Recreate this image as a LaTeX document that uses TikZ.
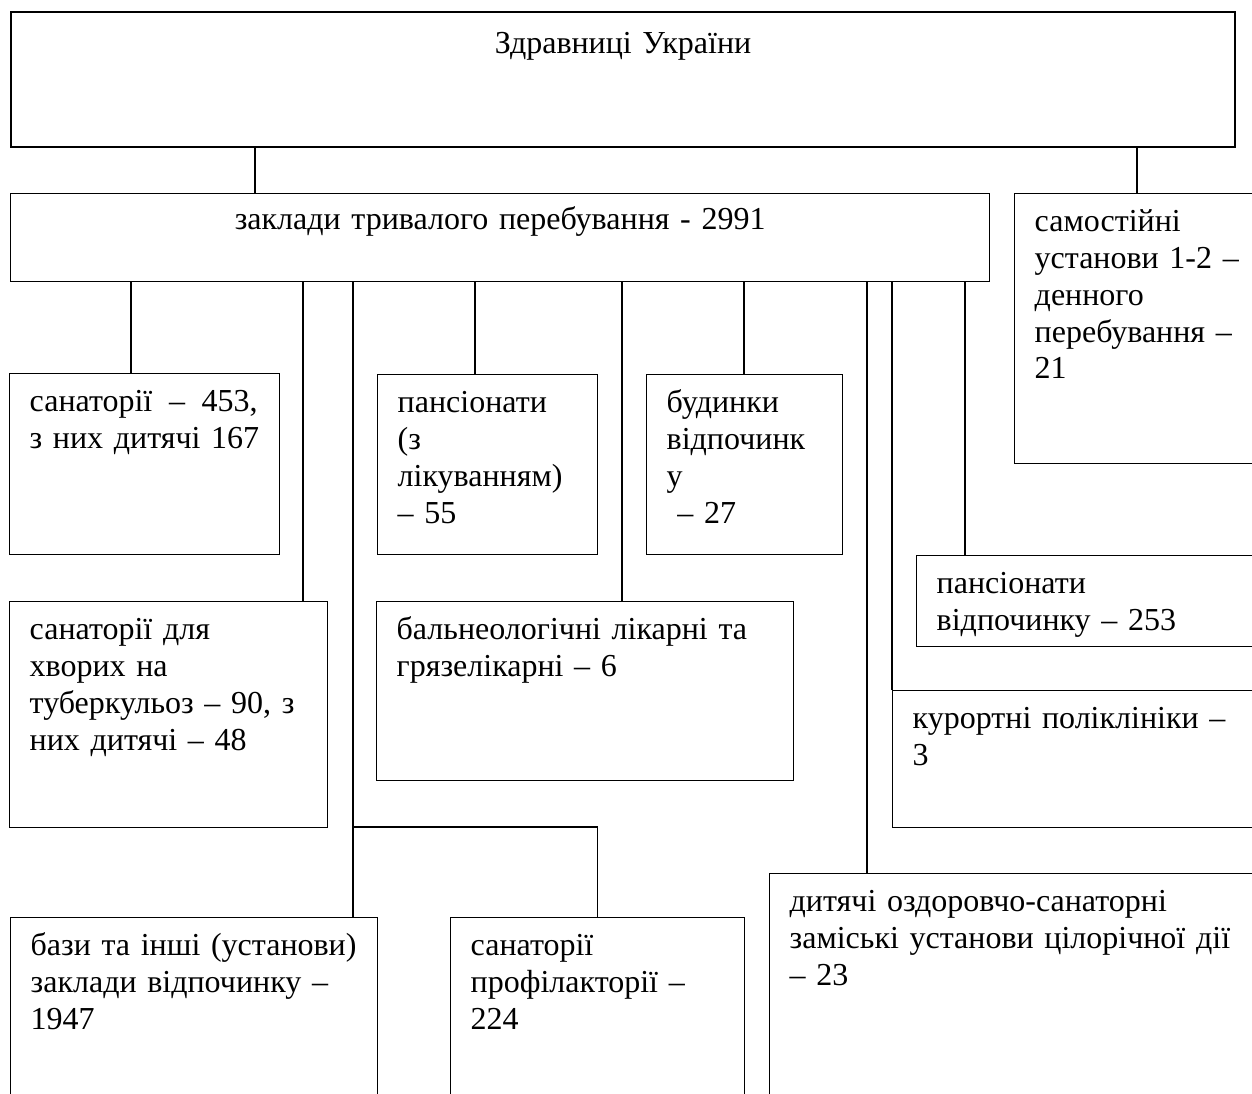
\documentclass[tikz,border=0pt]{standalone}
\usepackage{fontspec}
\setmainfont{Liberation Serif}
\tikzset{
  box/.style={draw, line width=0.7pt, anchor=north west, align=left,
    inner xsep=10pt, inner ysep=6pt, text height=13pt,
    font=\fontsize{16pt}{18.4pt}\selectfont},
  link/.style={line width=0.55pt},
}
\begin{document}
\begin{tikzpicture}[x=0.5pt, y=-0.5pt]
    % Межі малюнка
    \useasboundingbox (0,0) rectangle (1252,1093);
    \clip (0,0) rectangle (1252,1093);

    % 1. Верхній рівень
    \node[box, line width=1pt, align=center, inner ysep=7.5pt, text width=592pt, text depth=39.5pt] (ukr) at (10,11) {Здравниці України};

    % 2. Другий рівень
    \node[box, align=center, inner ysep=5pt, text width=469.5pt, text depth=21pt] (tryv) at (10,193) {заклади тривалого перебування - 2991};
    \node[box, text width=140pt, text depth=110pt] (samost) at (1014,193)
        {самостійні\\установи 1-2 –\\денного\\перебування –\\21};

    % 3. Заклади тривалого перебування
    \node[box, text width=115pt, text depth=65.5pt] (san) at (9,373)
        {\makebox[114pt]{санаторії\hfill –\hfill 453,}\\з них дитячі 167};
    \node[box, text width=90pt, text depth=65pt] (pans) at (377,374)
        {пансіонати\\(з\\лікуванням)\\– 55};
    \node[box, text width=78pt, text depth=65pt] (bud) at (646,374)
        {будинки\\відпочинк\\у\\\ – 27};
    \node[box, text width=172pt, text depth=20.5pt] (svid) at (916,555)
        {пансіонати\\відпочинку – 253};
    \node[box, text width=139pt, text depth=88pt] (tub) at (9,601)
        {санаторії для\\хворих на\\туберкульоз – 90, з\\них дитячі – 48};
    \node[box, text width=188.5pt, text depth=64.5pt] (baln) at (376,601)
        {бальнеологічні лікарні та\\грязелікарні – 6};
    \node[box, text width=184pt, text depth=43.5pt] (kur) at (892,690)
        {курортні поліклініки –\\3};
    \node[box, text width=163.5pt, text depth=91.5pt] (baz) at (10,917)
        {бази та інші (установи)\\заклади відпочинку –\\1947};
    \node[box, text width=127pt, text depth=91.5pt] (prof) at (450,917)
        {санаторії\\профілакторії –\\224};
    \node[box, text width=245.5pt, text depth=113.5pt] (dyt) at (769,873)
        {дитячі оздоровчо-санаторні\\заміські установи цілорічної дії\\– 23};

    % 4. Лінії зв'язку
    \draw[link] (ukr.south -| 255,0) -- (tryv.north -| 255,0);
    \draw[link] (ukr.south -| 1137,0) -- (samost.north -| 1137,0);

    \draw[link] (tryv.south -| 131,0) -- (san.north -| 131,0);
    \draw[link] (tryv.south -| 303,0) -- (tub.north -| 303,0);
    \draw[link] (tryv.south -| 353,0) -- (baz.north -| 353,0);
    \coordinate (kink) at (353,827);
    \draw[link] (kink) -| (prof.north);
    \draw[link] (tryv.south -| 475,0) -- (pans.north -| 475,0);
    \draw[link] (tryv.south -| 622,0) -- (baln.north -| 622,0);
    \draw[link] (tryv.south -| 744,0) -- (bud.north -| 744,0);
    \draw[link] (tryv.south -| 867,0) -- (dyt.north -| 867,0);
    \draw[link] (tryv.south -| 892,0) -- (kur.north -| 892,0);
    \draw[link] (tryv.south -| 965,0) -- (svid.north -| 965,0);
\end{tikzpicture}
\end{document}
